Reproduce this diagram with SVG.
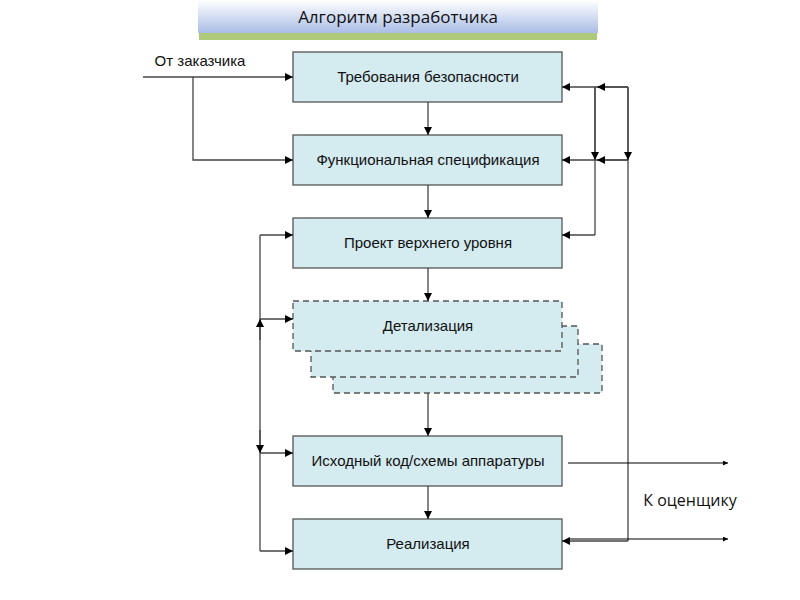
<svg xmlns="http://www.w3.org/2000/svg" width="800" height="600" viewBox="0 0 800 600">
<defs>
<linearGradient id="tg" x1="0" y1="0" x2="0" y2="1"><stop offset="0" stop-color="#ffffff"/><stop offset="1" stop-color="#a9bde6"/></linearGradient>
<marker id="a" viewBox="0 0 10 10" refX="10" refY="5" markerWidth="8" markerHeight="8" markerUnits="userSpaceOnUse" orient="auto"><path d="M0,0L10,5L0,10z" fill="#000"/></marker>
<marker id="s" viewBox="0 0 10 10" refX="10" refY="5" markerWidth="7" markerHeight="5" markerUnits="userSpaceOnUse" orient="auto"><path d="M0,0L10,5L0,10z" fill="#000"/></marker>
</defs>
<style>
.b{fill:#d4ebf0;stroke:#555;stroke-width:1.3}
.d{fill:#d4ebf0;stroke:#555;stroke-width:1.3;stroke-dasharray:6,4}
.t{font-family:"Liberation Sans",Arial,sans-serif;font-size:15px;fill:#111;text-anchor:middle}
.c{fill:none;stroke:#444;stroke-width:1.3}
.ca{fill:none;stroke:#444;stroke-width:1.3;marker-end:url(#a)}
.o{fill:none;stroke:#000;stroke-width:1.2;marker-end:url(#s)}
</style>
<g id="title">
<rect x="199" y="8" width="398" height="32" fill="#9bbb59" opacity="0.8"/>
<rect x="198" y="0" width="400" height="33" fill="url(#tg)"/>
<text x="398" y="23" font-family="'Open Sans',sans-serif" font-size="17" text-anchor="middle" fill="#111">Алгоритм разработчика</text>
</g>
<g id="n1"><rect class="b" x="293" y="52" width="269" height="50"/><text class="t" x="428" y="82">Требования безопасности</text></g>
<g id="n2"><rect class="b" x="293" y="135" width="269" height="50"/><text class="t" x="428" y="165">Функциональная спецификация</text></g>
<g id="n3"><rect class="b" x="293" y="218" width="269" height="50"/><text class="t" x="428" y="248">Проект верхнего уровня</text></g>
<g id="n4">
<rect class="d" x="333" y="344" width="269" height="49"/>
<rect class="d" x="311" y="326" width="267" height="51"/>
<rect class="d" x="293" y="301" width="269" height="50"/><text class="t" x="428" y="331">Детализация</text></g>
<g id="n5"><rect class="b" x="293" y="436" width="269" height="50"/><text class="t" x="428" y="466">Исходный код/схемы аппаратуры</text></g>
<g id="n6"><rect class="b" x="293" y="519" width="269" height="50"/><text class="t" x="428" y="549">Реализация</text></g>
<g id="labels">
<text class="t" x="200" y="66">От заказчика</text>
<text x="690" y="506" font-family="'Open Sans',sans-serif" font-size="16" text-anchor="middle" fill="#111">К оценщику</text>
</g>
<g id="connectors">
<path class="ca" d="M143,77H293"/>
<path class="ca" d="M193,77V160H293"/>
<path class="ca" d="M428,102V135"/>
<path class="ca" d="M428,185V218"/>
<path class="ca" d="M428,268V301"/>
<path class="ca" d="M428,393V436"/>
<path class="ca" d="M428,486V519"/>
<path class="ca" d="M628,87H562"/>
<path class="ca" d="M628,87H597"/>
<path class="ca" d="M628,160H562"/>
<path class="ca" d="M628,160H597"/>
<path class="c" d="M595,87V235"/>
<path class="ca" d="M595,235H562"/>
<path class="ca" d="M595,87V160"/>
<path class="c" d="M628,87V541"/>
<path class="ca" d="M628,87V160"/>
<path class="ca" d="M628,541H562"/>
<path class="c" d="M260,235V551"/>
<path class="ca" d="M260,235H293"/>
<path class="ca" d="M260,319H293"/>
<path class="ca" d="M260,453H293"/>
<path class="ca" d="M260,551H293"/>
<path class="ca" d="M260,340V319"/>
<path class="ca" d="M260,430V453"/>
<path class="o" d="M568,463H728"/>
<path class="o" d="M568,539H728"/>
</g>
</svg>
